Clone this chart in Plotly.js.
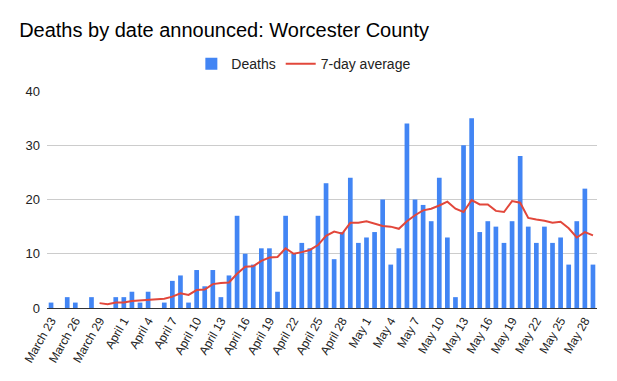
<!DOCTYPE html>
<html>
<head>
<meta charset="utf-8">
<script src="https://cdn.plot.ly/plotly-3.0.1.min.js"></script>
<style>html,body{margin:0;padding:0;background:#fff;}#chart{width:617px;height:381px;}</style>
</head>
<body>
<div id="chart"></div>
<script>
const dates = [
  "March 23","March 24","March 25","March 26","March 27","March 28","March 29","March 30","March 31",
  "April 1","April 2","April 3","April 4","April 5","April 6","April 7","April 8","April 9","April 10",
  "April 11","April 12","April 13","April 14","April 15","April 16","April 17","April 18","April 19","April 20",
  "April 21","April 22","April 23","April 24","April 25","April 26","April 27","April 28","April 29","April 30",
  "May 1","May 2","May 3","May 4","May 5","May 6","May 7","May 8","May 9","May 10",
  "May 11","May 12","May 13","May 14","May 15","May 16","May 17","May 18","May 19","May 20",
  "May 21","May 22","May 23","May 24","May 25","May 26","May 27","May 28","May 29"
];
const deaths = [
  1,0,2,1,0,2,0,0,2,
  2,3,1,3,0,1,5,6,1,7,
  4,7,2,6,17,10,8,11,11,3,
  17,10,12,11,17,23,9,14,24,12,
  13,14,20,8,11,34,20,19,16,24,
  13,2,30,35,14,16,15,12,16,28,
  15,12,15,12,13,8,16,22,8
];
const avg7 = [
  null,null,null,null,null,null,0.9,0.7,1.0,
  1.0,1.3,1.4,1.6,1.6,1.7,2.1,2.7,2.4,3.3,
  3.4,4.4,4.6,4.7,6.3,7.6,7.7,8.7,9.3,9.4,
  11.0,10.0,10.3,10.7,11.6,13.3,14.1,13.7,15.7,15.7,
  16.0,15.6,15.1,15.0,14.6,16.0,17.1,18.0,18.3,18.9,
  19.6,18.3,17.7,19.9,19.1,19.1,17.9,17.7,19.7,19.4,
  16.6,16.3,16.1,15.7,15.9,14.7,13.0,14.0,13.4
];
const tickLabels = dates.filter((d, i) => i % 3 === 0);
const yTicks = [0, 10, 20, 30, 40];

const traces = [
  {
    type: 'bar', name: 'Deaths', x: dates, y: deaths,
    marker: {color: '#4285f4'}, hoverinfo: 'skip'
  },
  {
    type: 'scatter', mode: 'lines', name: '7-day average', x: dates, y: avg7,
    line: {color: '#e2473b', width: 2}, hoverinfo: 'skip', connectgaps: false
  }
];

const FONT = 'Arial, "Liberation Sans", sans-serif';
const layout = {
  width: 617, height: 381,
  margin: {l: 47, r: 20, t: 91, b: 73},
  paper_bgcolor: '#fff', plot_bgcolor: '#fff',
  font: {family: FONT, color: '#222', size: 12},
  title: {
    text: 'Deaths by date announced: Worcester County',
    x: 0.031, xanchor: 'left', xref: 'container', y: 0.92, yanchor: 'middle', yref: 'container',
    font: {family: FONT, size: 20, color: '#000'}
  },
  showlegend: true,
  legend: {
    orientation: 'h', x: 0.467, xanchor: 'center', y: 1.124, yanchor: 'middle',
    font: {family: FONT, size: 14, color: '#222'}, itemwidth: 30, traceorder: 'normal'
  },
  bargap: 0.42,
  xaxis: {
    type: 'category', tickmode: 'array', tickvals: tickLabels, ticktext: tickLabels,
    tickangle: -60, showgrid: false, showline: true, linecolor: '#333', linewidth: 1,
    ticks: '', tickfont: {family: FONT, size: 12, color: '#222'}, fixedrange: true
  },
  yaxis: {
    range: [0, 40], tickmode: 'array', tickvals: yTicks,
    gridcolor: '#cccccc', gridwidth: 1, zeroline: false, showline: false,
    ticks: '', ticklabelstandoff: 6, tickfont: {family: FONT, size: 13, color: '#222'}, fixedrange: true
  }
};

Plotly.newPlot('chart', traces, layout, {displayModeBar: false, staticPlot: true});
</script>
</body>
</html>
